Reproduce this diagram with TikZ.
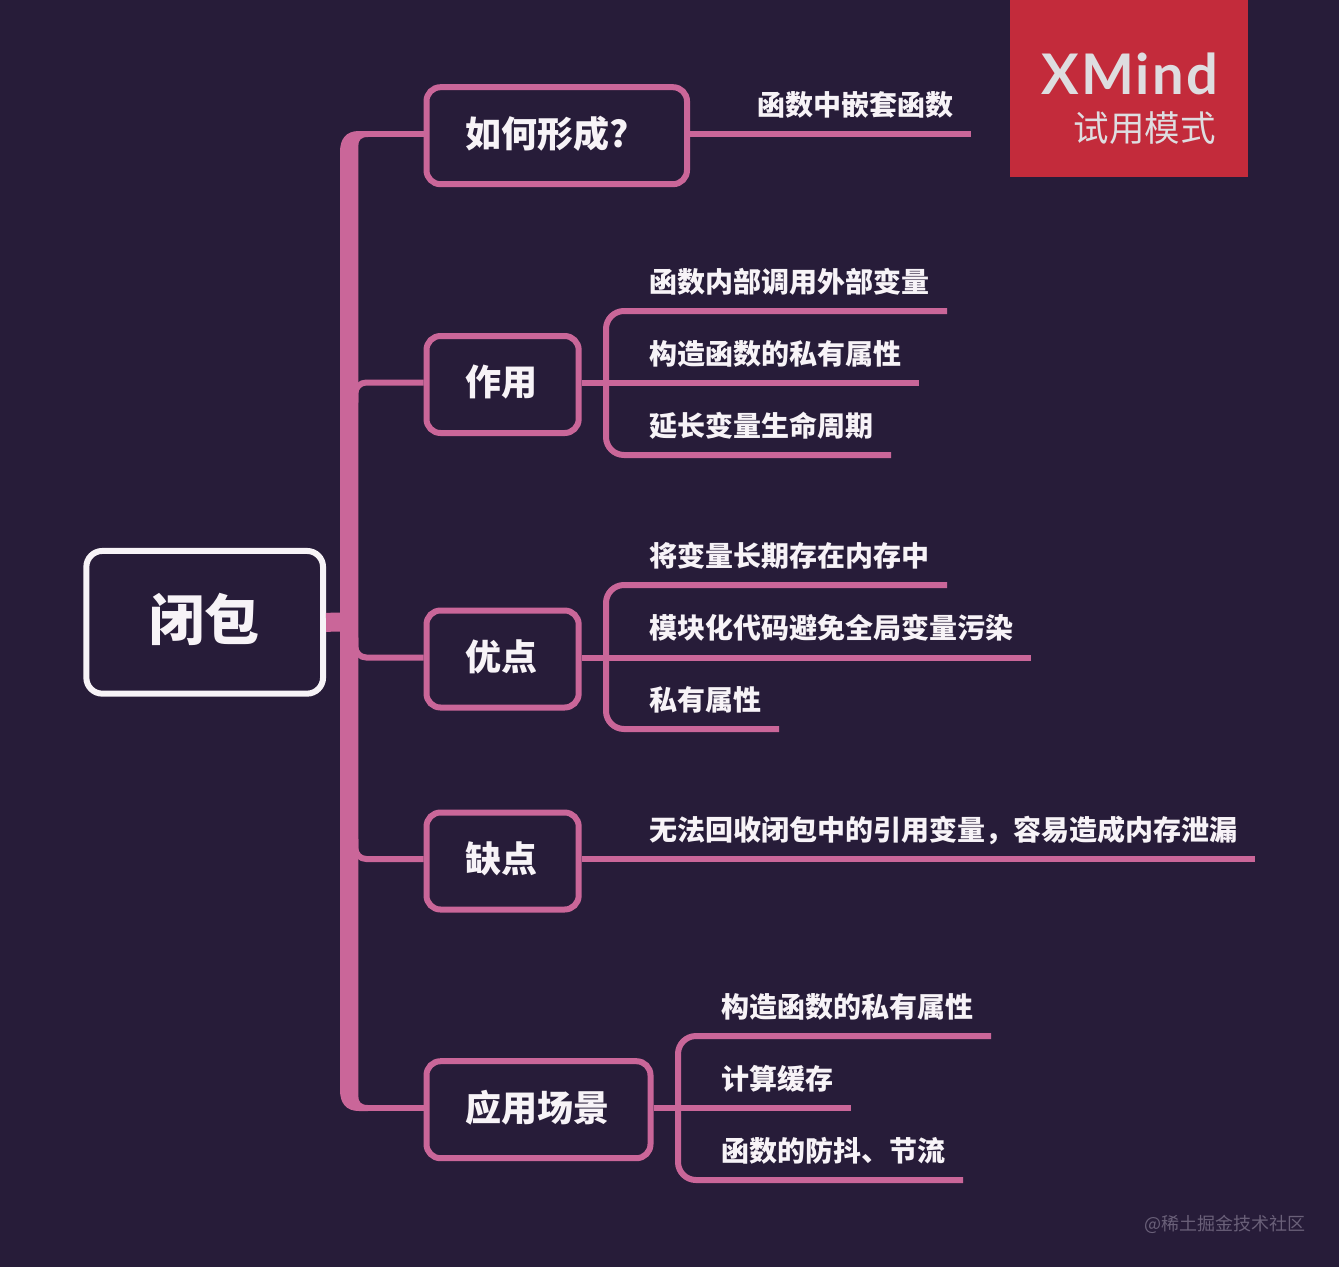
\documentclass[tikz,border=0pt]{standalone}
\usepackage{fontspec}
\setmainfont{Noto Sans CJK SC}
\newfontfamily\logofont[LetterSpace=4]{Lato}
\usetikzlibrary{calc}
\definecolor{mapbg}{HTML}{271C39}
\definecolor{mappink}{HTML}{CA6699}
\definecolor{mapred}{HTML}{C32B3B}
\definecolor{maptext}{HTML}{F7F3F7}
\definecolor{logotext}{HTML}{DEDDE0}
\definecolor{marktext}{HTML}{6A6079}

\begin{document}
\begin{tikzpicture}[
  x=1pt, y=-1pt,
  rootbox/.style={draw=maptext, line width=6pt, rounded corners=16pt, text=maptext, font=\fontsize{55}{60}\selectfont\bfseries,
    minimum width=236.7pt, minimum height=142.7pt, text height=45pt, text depth=8.6pt, inner sep=0pt},
  topicbox/.style={draw=mappink, line width=6pt, rounded corners=14pt, text=maptext, font=\fontsize{36}{40}\selectfont\bfseries,
    anchor=west, align=left, minimum height=97pt, inner xsep=39pt, inner ysep=0pt, text height=30pt, text depth=7.4pt},
  leaf/.style={text=maptext, font=\fontsize{28}{32}\selectfont\bfseries, anchor=base west, inner sep=0pt},
  link/.style={draw=mappink, line width=6pt},
  hub/.style={link, rounded corners=18pt},
]
\useasboundingbox (0,0) rectangle (1339,1267);
\fill[mapbg] (0,0) rectangle (1339,1267);

% --- root and the five topics
\node[rootbox] (root) at (204.7,622.3) {闭包};
\node[topicbox, text width=182.5pt] (form) at (423.5,135.7) {如何形成?};
\node[topicbox, text width=74.2pt] (use) at (423.5,384.5) {作用};
\node[topicbox, text width=74.2pt] (good) at (423.5,659) {优点};
\node[topicbox, text width=74.2pt] (bad) at (423.5,861) {缺点};
\node[topicbox, text width=146pt] (app) at (423.5,1109.7) {应用场景};

% --- leaves
\node[leaf] (form1) at (757.4,115.5) {函数中嵌套函数};

\node[leaf] (use1) at (649.4,292.5) {函数内部调用外部变量};
\node[leaf] (use2) at (649.4,364.5) {构造函数的私有属性};
\node[leaf] (use3) at (649.4,436.5) {延长变量生命周期};

\node[leaf] (good1) at (649.4,566.5) {将变量长期存在内存中};
\node[leaf] (good2) at (649.4,638.5) {模块化代码避免全局变量污染};
\node[leaf] (good3) at (649.4,710.5) {私有属性};

\node[leaf] (bad1) at (649.4,840.5) {无法回收闭包中的引用变量，容易造成内存泄漏};

\node[leaf] (app1) at (721.4,1017.5) {构造函数的私有属性};
\node[leaf] (app2) at (721.4,1089.5) {计算缓存};
\node[leaf] (app3) at (721.4,1161.5) {函数的防抖、节流};

% --- free ends of the leaf rules
\coordinate (form1e) at (971,133.5);
\coordinate (use1e) at (947,311);
\coordinate (use2e) at (919,383);
\coordinate (use3e) at (891,455);
\coordinate (good1e) at (947,585);
\coordinate (good2e) at (1031,657.5);
\coordinate (good3e) at (779,729);
\coordinate (bad1e) at (1255,859);
\coordinate (app1e) at (991,1036);
\coordinate (app2e) at (851,1108);
\coordinate (app3e) at (963,1180);

% --- hubs: x of the short verticals
\coordinate (usehub) at (606,383);
\coordinate (goodhub) at (606,657.5);
\coordinate (apphub) at (678,1108);

% --- trunk
\fill[mappink] (340,152) .. controls (340,139) and (346,131) .. (359,131) -- (368,131) -- (368,137)
  .. controls (361,137) and (358.3,140) .. (358.3,146) -- (358.3,1096) .. controls (358.3,1102) and (361,1105) .. (368,1105)
  -- (368,1111) -- (359,1111) .. controls (346,1111) and (340,1103) .. (340,1090) -- cycle;
\coordinate (formjoin) at (358,134);
\coordinate (usejoin) at (355.3,382.5);
\coordinate (goodjoin) at (355.3,657.5);
\coordinate (badjoin) at (355.3,859);
\coordinate (appjoin) at (358,1108);
\coordinate (rootjoin) at (349,622);

\draw[mappink, line width=19pt] (root.east) -- (rootjoin);
\draw[link] (form.west |- formjoin) -- (formjoin);
\draw[link, rounded corners=11pt] (use.west |- usejoin) -- (usejoin) -- ++(0,20);
\draw[link, rounded corners=11pt] (good.west |- goodjoin) -- (goodjoin) -- ++(0,-20);
\draw[link, rounded corners=11pt] (bad.west |- badjoin) -- (badjoin) -- ++(0,-20);
\draw[link] (app.west |- appjoin) -- (appjoin);

% --- topic to leaves
\draw[link] (form.east |- form1e) -- (form1e);

\draw[link] (use.east |- use2e) -- (use2e);
\draw[hub] (use1e) -- (use1e -| usehub) -- (use3e -| usehub) -- (use3e);

\draw[link] (good.east |- good2e) -- (good2e);
\draw[hub] (good1e) -- (good1e -| goodhub) -- (good3e -| goodhub) -- (good3e);

\draw[link] (bad.east |- bad1e) -- (bad1e);

\draw[link] (app.east |- app2e) -- (app2e);
\draw[hub] (app1e) -- (app1e -| apphub) -- (app3e -| apphub) -- (app3e);

% --- trial mark and watermark
\fill[mapred] (1009.5,0) rectangle (1248,176.7);
\node[text=logotext, font=\logofont\fontsize{56}{60}\selectfont\bfseries, anchor=base east, inner sep=0pt] (logo) at (1218,94) {XMind};
\node[text=logotext, font=\fontsize{35.5}{40}\selectfont, anchor=base east, inner sep=0pt] (trial) at (1216,141.5) {试用模式};
\node[text=marktext, font=\fontsize{18}{20}\selectfont, anchor=base east, inner sep=0pt] (mark) at (1306,1230) {@稀土掘金技术社区};

\end{tikzpicture}
\end{document}
